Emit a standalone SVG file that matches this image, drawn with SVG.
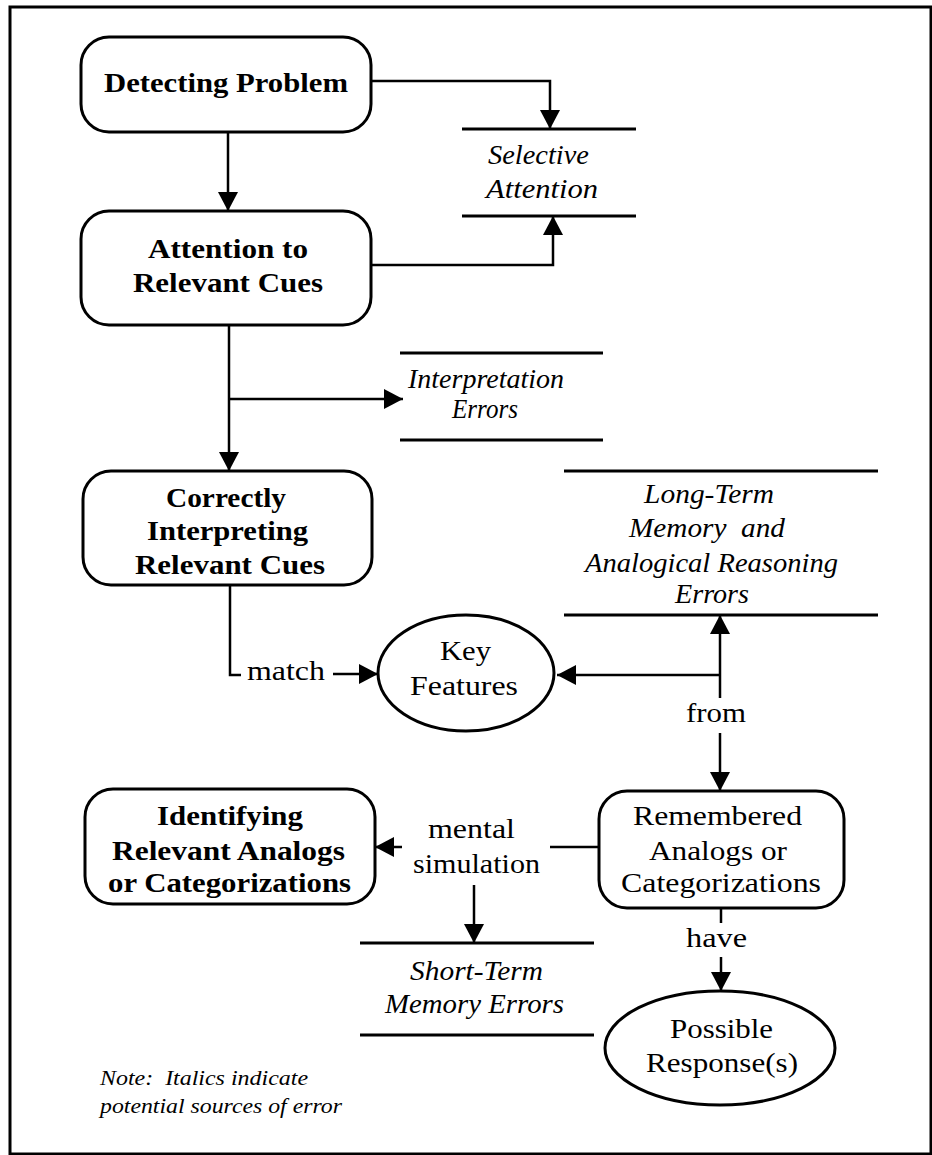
<svg xmlns="http://www.w3.org/2000/svg" width="932" height="1155" viewBox="0 0 932 1155">
  <style>
    .frame { fill: none; stroke: #000; stroke-width: 3; }
    .box { fill: #fff; stroke: #000; stroke-width: 3; }
    .conn { fill: none; stroke: #000; stroke-width: 2.5; }
    .rule { stroke: #000; stroke-width: 3; }
    text { font-family: "Liberation Serif", "Times New Roman", serif; fill: #000; }
    .b { font-size: 28px; font-weight: bold; }
    .r { font-size: 28px; }
    .i { font-size: 27px; font-style: italic; }
    .n { font-size: 22px; font-style: italic; }
  </style>
  <defs>
    <marker id="arrow" markerUnits="userSpaceOnUse" markerWidth="19" markerHeight="20" refX="19" refY="10" orient="auto" viewBox="0 0 19 20">
      <path d="M0,0 L19,10 L0,20 Z" fill="#000"/>
    </marker>
  </defs>

  <rect class="frame" x="10" y="7" width="921" height="1147"/>

  <!-- connectors -->
  <g id="connectors">
    <line class="conn" x1="228" y1="132" x2="228" y2="211" marker-end="url(#arrow)"/>
    <polyline class="conn" points="371,81 550,81 550,129" marker-end="url(#arrow)"/>
    <polyline class="conn" points="371,265 553,265 553,216" marker-end="url(#arrow)"/>
    <line class="conn" x1="229" y1="325" x2="229" y2="471" marker-end="url(#arrow)"/>
    <line class="conn" x1="229" y1="399" x2="403" y2="399" marker-end="url(#arrow)"/>
    <polyline class="conn" points="230,585 230,675 241,675"/>
    <line class="conn" x1="333" y1="674" x2="378" y2="674" marker-end="url(#arrow)"/>
    <line class="conn" x1="720" y1="698" x2="720" y2="615" marker-end="url(#arrow)"/>
    <line class="conn" x1="720" y1="675" x2="557" y2="675" marker-end="url(#arrow)"/>
    <line class="conn" x1="720" y1="733" x2="720" y2="791" marker-end="url(#arrow)"/>
    <line class="conn" x1="721" y1="908" x2="721" y2="923"/>
    <line class="conn" x1="721" y1="957" x2="721" y2="991" marker-end="url(#arrow)"/>
    <line class="conn" x1="599" y1="847" x2="550" y2="847"/>
    <line class="conn" x1="402" y1="847" x2="375" y2="847" marker-end="url(#arrow)"/>
    <line class="conn" x1="474" y1="885" x2="474" y2="943" marker-end="url(#arrow)"/>
  </g>

  <!-- connector labels -->
  <g id="labels">
    <text class="r" x="247" y="680" textLength="78" lengthAdjust="spacingAndGlyphs">match</text>
    <text class="r" x="686" y="722" textLength="60" lengthAdjust="spacingAndGlyphs">from</text>
    <text class="r" x="686" y="947" textLength="61" lengthAdjust="spacingAndGlyphs">have</text>
    <text class="r" x="428" y="838" textLength="87" lengthAdjust="spacingAndGlyphs">mental</text>
    <text class="r" x="413" y="873" textLength="127" lengthAdjust="spacingAndGlyphs">simulation</text>
  </g>

  <g id="detecting-problem">
    <rect class="box" x="81" y="37" width="290" height="95" rx="28"/>
    <text class="b" x="104" y="92" textLength="244" lengthAdjust="spacingAndGlyphs">Detecting Problem</text>
  </g>

  <g id="attention-cues">
    <rect class="box" x="81" y="211" width="290" height="114" rx="28"/>
    <text class="b" x="148" y="258" textLength="160" lengthAdjust="spacingAndGlyphs">Attention to</text>
    <text class="b" x="133" y="292" textLength="190" lengthAdjust="spacingAndGlyphs">Relevant Cues</text>
  </g>

  <g id="correctly-interpreting">
    <rect class="box" x="83" y="471" width="289" height="114" rx="28"/>
    <text class="b" x="166" y="507" textLength="120" lengthAdjust="spacingAndGlyphs">Correctly</text>
    <text class="b" x="147" y="540" textLength="161" lengthAdjust="spacingAndGlyphs">Interpreting</text>
    <text class="b" x="135" y="574" textLength="190" lengthAdjust="spacingAndGlyphs">Relevant Cues</text>
  </g>

  <g id="identifying-analogs">
    <rect class="box" x="85" y="789" width="290" height="115" rx="28"/>
    <text class="b" x="157" y="825" textLength="146" lengthAdjust="spacingAndGlyphs">Identifying</text>
    <text class="b" x="112" y="860" textLength="233" lengthAdjust="spacingAndGlyphs">Relevant Analogs</text>
    <text class="b" x="108" y="892" textLength="243" lengthAdjust="spacingAndGlyphs">or Categorizations</text>
  </g>

  <g id="remembered-analogs">
    <rect class="box" x="599" y="791" width="245" height="117" rx="28"/>
    <text class="r" x="633" y="825" textLength="169" lengthAdjust="spacingAndGlyphs">Remembered</text>
    <text class="r" x="649" y="860" textLength="138" lengthAdjust="spacingAndGlyphs">Analogs or</text>
    <text class="r" x="621" y="892" textLength="200" lengthAdjust="spacingAndGlyphs">Categorizations</text>
  </g>

  <g id="key-features">
    <ellipse class="box" cx="466" cy="673" rx="88" ry="58"/>
    <text class="r" x="440" y="660" textLength="51" lengthAdjust="spacingAndGlyphs">Key</text>
    <text class="r" x="410" y="695" textLength="108" lengthAdjust="spacingAndGlyphs">Features</text>
  </g>

  <g id="possible-responses">
    <ellipse class="box" cx="720" cy="1048" rx="115" ry="57"/>
    <text class="r" x="670" y="1038" textLength="103" lengthAdjust="spacingAndGlyphs">Possible</text>
    <text class="r" x="646" y="1072" textLength="152" lengthAdjust="spacingAndGlyphs">Response(s)</text>
  </g>

  <g id="selective-attention">
    <line class="rule" x1="462" y1="129" x2="636" y2="129"/>
    <line class="rule" x1="462" y1="216" x2="636" y2="216"/>
    <text class="i" x="488" y="164" textLength="101" lengthAdjust="spacingAndGlyphs">Selective</text>
    <text class="i" x="486" y="198" textLength="112" lengthAdjust="spacingAndGlyphs">Attention</text>
  </g>

  <g id="interpretation-errors">
    <line class="rule" x1="400" y1="353" x2="603" y2="353"/>
    <line class="rule" x1="400" y1="440" x2="603" y2="440"/>
    <text class="i" x="408" y="388" textLength="156" lengthAdjust="spacingAndGlyphs">Interpretation</text>
    <text class="i" x="452" y="418" textLength="66" lengthAdjust="spacingAndGlyphs">Errors</text>
  </g>

  <g id="long-term-errors">
    <line class="rule" x1="564" y1="471" x2="878" y2="471"/>
    <line class="rule" x1="564" y1="615" x2="878" y2="615"/>
    <text class="i" x="644" y="503" textLength="130" lengthAdjust="spacingAndGlyphs">Long-Term</text>
    <text class="i" x="629" y="537" textLength="156" lengthAdjust="spacingAndGlyphs" xml:space="preserve">Memory  and</text>
    <text class="i" x="585" y="572" textLength="253" lengthAdjust="spacingAndGlyphs">Analogical Reasoning</text>
    <text class="i" x="675" y="603" textLength="74" lengthAdjust="spacingAndGlyphs">Errors</text>
  </g>

  <g id="short-term-errors">
    <line class="rule" x1="360" y1="943" x2="594" y2="943"/>
    <line class="rule" x1="360" y1="1035" x2="594" y2="1035"/>
    <text class="i" x="410" y="980" textLength="133" lengthAdjust="spacingAndGlyphs">Short-Term</text>
    <text class="i" x="385" y="1013" textLength="179" lengthAdjust="spacingAndGlyphs">Memory Errors</text>
  </g>

  <g id="note">
    <text class="n" x="100" y="1085" textLength="208" lengthAdjust="spacingAndGlyphs" xml:space="preserve">Note:  Italics indicate</text>
    <text class="n" x="100" y="1113" textLength="242" lengthAdjust="spacingAndGlyphs">potential sources of error</text>
  </g>
</svg>
